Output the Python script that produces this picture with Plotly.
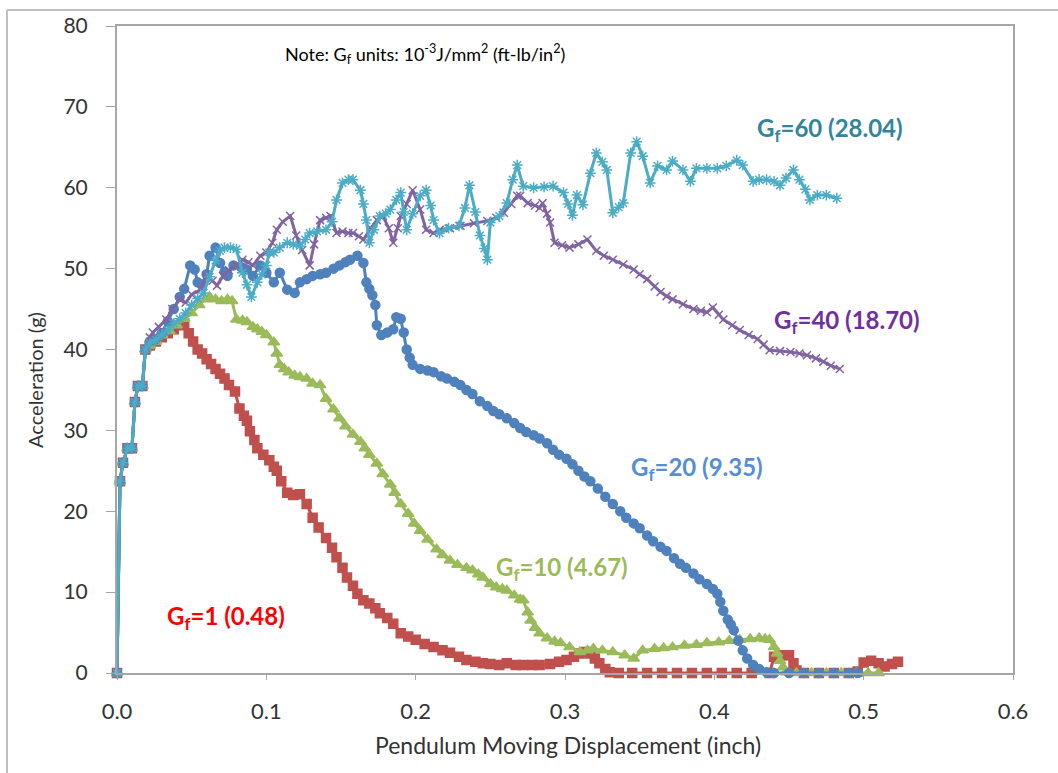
import plotly.graph_objects as go

# Pendulum impact tests: acceleration vs. pendulum displacement for five fracture energies
gf1_points = [
    (0.000, 0.0), (0.002, 23.7), (0.004, 26.0), (0.007, 27.8), (0.010, 27.8), (0.012, 33.5),
    (0.014, 35.5), (0.017, 35.5), (0.019, 40.0), (0.022, 40.5), (0.026, 41.0), (0.030, 41.5),
    (0.034, 42.0), (0.038, 42.5), (0.042, 43.0), (0.045, 43.2), (0.048, 42.0), (0.051, 41.0),
    (0.054, 40.0), (0.057, 39.5), (0.060, 38.8), (0.063, 38.2), (0.066, 37.6), (0.069, 37.0),
    (0.072, 36.4), (0.075, 35.6), (0.079, 34.8), (0.082, 32.7), (0.085, 31.8), (0.087, 31.2),
    (0.089, 29.9), (0.092, 28.8), (0.094, 27.8), (0.098, 27.0), (0.102, 26.3), (0.105, 25.5),
    (0.107, 25.0), (0.110, 23.7), (0.114, 22.3), (0.118, 22.0), (0.1225, 22.1), (0.127, 20.9),
    (0.131, 19.2), (0.135, 18.0), (0.140, 16.7), (0.144, 15.5), (0.147, 14.3), (0.151, 13.0),
    (0.154, 11.8), (0.158, 10.8), (0.161, 9.8), (0.165, 9.0), (0.169, 8.6), (0.173, 8.0),
    (0.176, 7.4), (0.181, 6.8), (0.185, 6.1), (0.190, 4.9), (0.195, 4.5), (0.200, 4.1),
    (0.206, 3.6), (0.212, 3.2), (0.218, 2.8), (0.223, 2.5), (0.229, 2.0), (0.234, 1.6),
    (0.240, 1.4), (0.245, 1.2), (0.250, 1.1), (0.256, 1.0), (0.261, 1.2), (0.267, 1.0),
    (0.272, 1.0), (0.278, 1.0), (0.283, 1.0), (0.290, 1.1), (0.296, 1.4), (0.301, 1.6),
    (0.306, 2.0), (0.310, 2.4), (0.314, 2.6), (0.317, 2.4), (0.320, 1.8), (0.323, 1.2),
    (0.327, 0.5), (0.330, 0.1), (0.336, 0.0), (0.345, 0.0), (0.355, 0.0), (0.365, 0.0),
    (0.375, 0.0), (0.385, 0.0), (0.395, 0.0), (0.405, 0.0), (0.415, 0.0), (0.425, 0.0),
    (0.437, 0.0), (0.440, 2.0), (0.445, 2.2), (0.450, 2.2), (0.453, 1.2), (0.455, 0.3),
    (0.460, 0.0), (0.470, 0.0), (0.480, 0.0), (0.490, 0.0), (0.496, 0.2), (0.500, 1.3),
    (0.505, 1.5), (0.510, 1.2), (0.514, 0.8), (0.519, 1.1), (0.523, 1.4),
]

gf10_points = [
    (0.000, 0.0), (0.002, 23.7), (0.004, 26.0), (0.007, 27.8), (0.010, 27.8), (0.012, 33.5),
    (0.014, 35.5), (0.017, 35.5), (0.019, 40.0), (0.022, 40.5), (0.026, 41.0), (0.030, 41.8),
    (0.035, 42.3), (0.040, 43.0), (0.045, 43.8), (0.050, 44.5), (0.055, 45.5), (0.059, 46.2),
    (0.062, 46.5), (0.066, 46.2), (0.070, 46.0), (0.074, 46.2), (0.077, 46.0), (0.080, 43.7),
    (0.084, 43.6), (0.087, 43.4), (0.091, 42.8), (0.094, 42.5), (0.097, 42.2), (0.100, 41.8),
    (0.105, 40.9), (0.107, 39.5), (0.109, 38.1), (0.112, 37.6), (0.115, 37.2), (0.119, 36.8),
    (0.1225, 36.6), (0.127, 36.4), (0.131, 35.8), (0.136, 35.6), (0.140, 33.9), (0.145, 32.6),
    (0.149, 31.5), (0.153, 30.5), (0.158, 29.5), (0.163, 28.6), (0.166, 27.8), (0.169, 27.0),
    (0.174, 25.9), (0.178, 24.6), (0.183, 23.3), (0.186, 22.3), (0.190, 20.9), (0.195, 19.7),
    (0.199, 18.5), (0.203, 17.6), (0.208, 16.5), (0.214, 15.3), (0.218, 14.6), (0.223, 13.9),
    (0.228, 13.4), (0.234, 13.0), (0.238, 12.7), (0.242, 12.2), (0.245, 11.8), (0.250, 11.0),
    (0.254, 10.6), (0.258, 10.4), (0.261, 10.2), (0.266, 9.6), (0.270, 9.1), (0.272, 9.0),
    (0.275, 7.5), (0.277, 6.5), (0.280, 5.6), (0.283, 4.9), (0.288, 4.3), (0.293, 3.9),
    (0.297, 3.7), (0.303, 3.2), (0.310, 2.6), (0.315, 2.8), (0.319, 3.0), (0.325, 2.8),
    (0.332, 2.6), (0.340, 2.2), (0.346, 1.8), (0.352, 2.8), (0.360, 3.0), (0.366, 3.1),
    (0.372, 3.2), (0.380, 3.4), (0.388, 3.5), (0.395, 3.7), (0.403, 3.8), (0.410, 4.0),
    (0.417, 4.1), (0.424, 4.2), (0.430, 4.3), (0.434, 4.2), (0.437, 4.1), (0.440, 3.2),
    (0.442, 2.4), (0.444, 1.5), (0.446, 0.7), (0.448, 0.1), (0.455, 0.0), (0.465, 0.0),
    (0.475, 0.0), (0.485, 0.0), (0.495, 0.0), (0.503, 0.0), (0.510, 0.0),
]

gf20_points = [
    (0.000, 0.0), (0.002, 23.7), (0.004, 26.0), (0.007, 27.8), (0.010, 27.8), (0.012, 33.5),
    (0.014, 35.5), (0.017, 35.5), (0.019, 40.0), (0.022, 41.0), (0.026, 41.3), (0.030, 42.0),
    (0.034, 43.5), (0.038, 45.0), (0.042, 46.5), (0.045, 47.5), (0.049, 50.4), (0.052, 49.9),
    (0.054, 48.3), (0.057, 48.0), (0.060, 49.3), (0.062, 51.6), (0.066, 52.6), (0.069, 50.7),
    (0.072, 49.6), (0.074, 49.1), (0.078, 50.4), (0.083, 50.2), (0.087, 49.9), (0.091, 49.1),
    (0.096, 50.4), (0.100, 49.5), (0.105, 48.3), (0.109, 49.5), (0.114, 47.4), (0.119, 47.0),
    (0.1225, 48.3), (0.127, 48.7), (0.131, 49.1), (0.136, 49.3), (0.140, 49.5), (0.145, 50.0),
    (0.149, 50.4), (0.153, 50.8), (0.156, 51.1), (0.161, 51.6), (0.165, 50.7), (0.167, 48.3),
    (0.169, 47.5), (0.171, 46.7), (0.173, 45.5), (0.174, 43.0), (0.177, 41.8), (0.181, 42.1),
    (0.185, 42.5), (0.187, 44.0), (0.190, 43.8), (0.192, 42.1), (0.194, 40.0), (0.196, 39.0),
    (0.198, 38.1), (0.203, 37.6), (0.208, 37.4), (0.212, 37.2), (0.217, 36.7), (0.221, 36.4),
    (0.226, 36.0), (0.230, 35.6), (0.234, 35.0), (0.238, 34.5), (0.243, 33.6), (0.248, 33.0),
    (0.252, 32.4), (0.256, 32.0), (0.261, 31.5), (0.266, 30.9), (0.270, 30.3), (0.274, 29.8),
    (0.279, 29.4), (0.283, 29.0), (0.288, 28.4), (0.292, 27.6), (0.296, 27.0), (0.301, 26.5),
    (0.305, 25.8), (0.309, 25.0), (0.313, 24.3), (0.317, 23.7), (0.322, 22.8), (0.327, 21.8),
    (0.332, 20.9), (0.337, 20.0), (0.341, 19.2), (0.346, 18.5), (0.350, 17.9), (0.355, 17.0),
    (0.359, 16.3), (0.364, 15.6), (0.368, 15.1), (0.373, 14.2), (0.377, 13.5), (0.381, 13.0),
    (0.386, 12.3), (0.390, 11.6), (0.395, 11.0), (0.399, 10.4), (0.402, 9.8), (0.404, 8.8),
    (0.406, 7.7), (0.409, 6.6), (0.411, 6.0), (0.413, 5.3), (0.416, 4.0), (0.419, 2.8),
    (0.422, 1.8), (0.426, 1.0), (0.430, 0.5), (0.435, 0.1), (0.440, 0.0), (0.450, 0.0),
    (0.460, 0.0), (0.470, 0.0), (0.480, 0.0), (0.490, 0.0), (0.496, 0.0),
]

gf40_points = [
    (0.000, 0.0), (0.002, 23.7), (0.004, 26.0), (0.007, 27.8), (0.010, 27.8), (0.012, 33.5),
    (0.014, 35.5), (0.017, 35.5), (0.019, 40.0), (0.022, 41.5), (0.024, 42.1), (0.028, 42.8),
    (0.033, 43.7), (0.037, 45.0), (0.042, 46.2), (0.046, 45.8), (0.050, 46.8), (0.056, 47.4),
    (0.060, 49.1), (0.064, 48.5), (0.067, 47.9), (0.071, 49.1), (0.075, 49.8), (0.080, 50.4),
    (0.084, 51.1), (0.088, 50.8), (0.091, 50.4), (0.096, 51.6), (0.100, 52.0), (0.104, 53.2),
    (0.107, 54.8), (0.111, 55.8), (0.116, 56.5), (0.120, 54.1), (0.124, 52.3), (0.129, 50.4),
    (0.132, 53.0), (0.136, 56.0), (0.140, 56.3), (0.143, 56.5), (0.147, 54.4), (0.151, 54.6),
    (0.155, 54.4), (0.158, 54.4), (0.162, 54.0), (0.165, 53.6), (0.170, 55.0), (0.174, 56.0),
    (0.178, 56.5), (0.182, 55.0), (0.185, 53.2), (0.188, 55.0), (0.190, 56.5), (0.194, 58.0),
    (0.198, 59.7), (0.203, 57.3), (0.207, 54.8), (0.212, 54.4), (0.216, 54.8), (0.223, 55.0),
    (0.230, 55.3), (0.239, 55.6), (0.248, 55.9), (0.254, 56.3), (0.259, 56.9), (0.264, 58.0),
    (0.268, 59.0), (0.270, 59.0), (0.275, 58.1), (0.280, 57.8), (0.283, 57.5), (0.285, 58.1),
    (0.288, 56.8), (0.290, 55.7), (0.293, 53.2), (0.298, 52.9), (0.303, 52.6), (0.309, 53.0),
    (0.315, 53.6), (0.321, 52.2), (0.326, 51.6), (0.332, 51.1), (0.339, 50.5), (0.346, 49.9),
    (0.350, 49.3), (0.355, 48.7), (0.360, 47.8), (0.364, 47.1), (0.368, 46.6), (0.372, 46.2),
    (0.379, 45.6), (0.386, 45.0), (0.391, 44.8), (0.395, 44.6), (0.399, 45.2), (0.403, 44.3),
    (0.406, 43.7), (0.412, 43.0), (0.417, 42.4), (0.423, 41.8), (0.429, 41.3), (0.433, 40.6),
    (0.437, 39.9), (0.444, 39.8), (0.451, 39.7), (0.457, 39.5), (0.462, 39.3), (0.468, 38.9),
    (0.473, 38.5), (0.478, 38.0), (0.484, 37.6),
]

gf60_points = [
    (0.000, 0.0), (0.002, 23.7), (0.004, 26.0), (0.007, 27.8), (0.010, 27.8), (0.012, 33.5),
    (0.014, 35.5), (0.017, 35.5), (0.019, 40.0), (0.022, 40.8), (0.026, 41.2), (0.030, 41.8),
    (0.034, 42.4), (0.038, 43.2), (0.042, 43.8), (0.046, 44.5), (0.050, 45.5), (0.054, 46.3),
    (0.058, 47.0), (0.062, 49.0), (0.066, 51.0), (0.069, 52.2), (0.072, 52.6), (0.076, 52.6),
    (0.080, 52.4), (0.084, 49.5), (0.087, 48.0), (0.090, 46.5), (0.094, 48.3), (0.097, 49.3),
    (0.100, 50.4), (0.102, 52.0), (0.105, 52.0), (0.109, 52.6), (0.114, 53.2), (0.118, 53.0),
    (0.1225, 52.8), (0.126, 53.6), (0.129, 54.4), (0.134, 54.6), (0.140, 54.8), (0.144, 55.8),
    (0.147, 58.5), (0.151, 60.6), (0.155, 61.0), (0.158, 61.0), (0.163, 59.7), (0.165, 58.0),
    (0.167, 56.0), (0.169, 53.2), (0.172, 54.8), (0.176, 56.5), (0.180, 56.8), (0.183, 57.3),
    (0.187, 58.5), (0.190, 59.4), (0.192, 57.0), (0.194, 54.8), (0.198, 56.8), (0.203, 59.0),
    (0.207, 59.7), (0.210, 57.8), (0.212, 56.0), (0.216, 54.4), (0.222, 55.0), (0.229, 55.3),
    (0.233, 57.5), (0.236, 60.3), (0.240, 57.0), (0.243, 54.1), (0.246, 52.5), (0.248, 51.1),
    (0.250, 55.7), (0.256, 56.5), (0.261, 58.1), (0.265, 61.0), (0.268, 62.8), (0.272, 60.2),
    (0.279, 60.0), (0.286, 60.1), (0.292, 60.2), (0.299, 59.4), (0.302, 58.0), (0.305, 56.6),
    (0.308, 59.1), (0.312, 57.9), (0.317, 61.8), (0.321, 64.3), (0.325, 63.2), (0.328, 62.2),
    (0.332, 56.9), (0.336, 57.6), (0.339, 58.1), (0.344, 64.3), (0.348, 65.7), (0.352, 63.9),
    (0.357, 60.6), (0.362, 62.7), (0.368, 62.2), (0.372, 63.3), (0.379, 62.2), (0.384, 60.8),
    (0.388, 62.4), (0.395, 62.4), (0.402, 62.4), (0.408, 62.7), (0.415, 63.4), (0.419, 62.8),
    (0.426, 60.8), (0.430, 61.0), (0.435, 61.0), (0.440, 60.8), (0.444, 60.3), (0.448, 61.2),
    (0.453, 62.2), (0.457, 61.0), (0.461, 59.8), (0.464, 58.5), (0.469, 59.1), (0.475, 59.1),
    (0.482, 58.7),
]

# series styling: (points, line colour, marker symbol, marker size)
series = [
    (gf1_points, "#C0504D", "square", 9),
    (gf10_points, "#9BBB59", "triangle-up", 10),
    (gf20_points, "#4F81BD", "circle", 9),
    (gf40_points, "#8064A2", "x-thin-open", 8),
    (gf60_points, "#4BACC6", "asterisk-open", 9),
]

# curve labels: text, colour, x, y (data units)
curve_labels = [
    ("G<sub>f</sub>=60 (28.04)", "#31859C", 0.4775, 67.2),
    ("G<sub>f</sub>=40 (18.70)", "#7030A0", 0.489, 43.5),
    ("G<sub>f</sub>=20 (9.35)", "#558ED5", 0.3885, 25.3),
    ("G<sub>f</sub>=10 (4.67)", "#9BBB59", 0.298, 12.9),
    ("G<sub>f</sub>=1 (0.48)", "#FF0000", 0.073, 6.9),
]

x_ticks = [0.0, 0.1, 0.2, 0.3, 0.4, 0.5, 0.6]
x_tick_text = ["0.0", "0.1", "0.2", "0.3", "0.4", "0.5", "0.6"]
y_ticks = [0, 10, 20, 30, 40, 50, 60, 70, 80]

FONT = "Lato"
TEXT_GREY = "#333333"

fig = go.Figure()
for pts, color, symbol, size in series:
    xs = [p[0] for p in pts]
    ys = [p[1] for p in pts]
    fig.add_trace(go.Scatter(
        x=xs, y=ys, mode="lines+markers",
        line=dict(color=color, width=3),
        marker=dict(symbol=symbol, size=size, color=color,
                    line=dict(color=color, width=1.5)),
        showlegend=False, cliponaxis=False,
    ))

annotations = []
for text, color, x, y in curve_labels:
    annotations.append(dict(
        x=x, y=y, xref="x", yref="y", text="<b>" + text + "</b>",
        showarrow=False, font=dict(family=FONT, size=24, color=color),
        xanchor="center", yanchor="middle",
    ))

annotations.append(dict(
    x=0.185, y=0.957, xref="paper", yref="paper", xanchor="left", yanchor="middle",
    text="Note: G<sub>f</sub> units: 10<sup>-3</sup>J/mm<sup>2</sup> (ft-lb/in<sup>2</sup>)",
    showarrow=False, font=dict(family=FONT, size=18, color="#000000"),
))
annotations.append(dict(
    x=-0.0915, y=0.453, xref="paper", yref="paper", textangle=-90,
    text="Acceleration (g)", showarrow=False,
    font=dict(family=FONT, size=20, color=TEXT_GREY),
    xanchor="center", yanchor="middle",
))
annotations.append(dict(
    x=0.503, y=-0.1106, xref="paper", yref="paper",
    text="Pendulum Moving Displacement (inch)", showarrow=False,
    font=dict(family=FONT, size=23, color=TEXT_GREY),
    xanchor="center", yanchor="middle",
))

# outer chart frame (top and left edges)
shapes = [
    dict(type="line", xref="paper", yref="paper", x0=-0.1228, x1=1.06, y0=1.0246, y1=1.0246,
         line=dict(color="#BFBFBF", width=2)),
    dict(type="line", xref="paper", yref="paper", x0=-0.1228, x1=-0.1228, y0=1.0246, y1=-0.16,
         line=dict(color="#BFBFBF", width=2)),
]

fig.update_layout(
    width=1058, height=773,
    margin=dict(l=117, r=45, t=22, b=100),
    paper_bgcolor="white", plot_bgcolor="white",
    font=dict(family=FONT, size=20, color=TEXT_GREY),
    annotations=annotations, shapes=shapes,
    xaxis=dict(
        range=[0, 0.6], tickvals=x_ticks, ticktext=x_tick_text,
        showgrid=False, zeroline=False,
        showline=True, linecolor="#A6A6A6", linewidth=1.5, mirror=True,
        ticks="outside", ticklen=5, tickcolor="#A6A6A6",
        tickfont=dict(family=FONT, size=22, color=TEXT_GREY),
        ticklabelstandoff=13,
    ),
    yaxis=dict(
        range=[0, 80], tickvals=y_ticks,
        showgrid=False, zeroline=False,
        showline=True, linecolor="#A6A6A6", linewidth=2, mirror=True,
        ticks="outside", ticklen=9, tickcolor="#A6A6A6",
        tickfont=dict(family=FONT, size=21, color=TEXT_GREY),
        ticklabelstandoff=14,
    ),
)

fig.write_html("out.html")
